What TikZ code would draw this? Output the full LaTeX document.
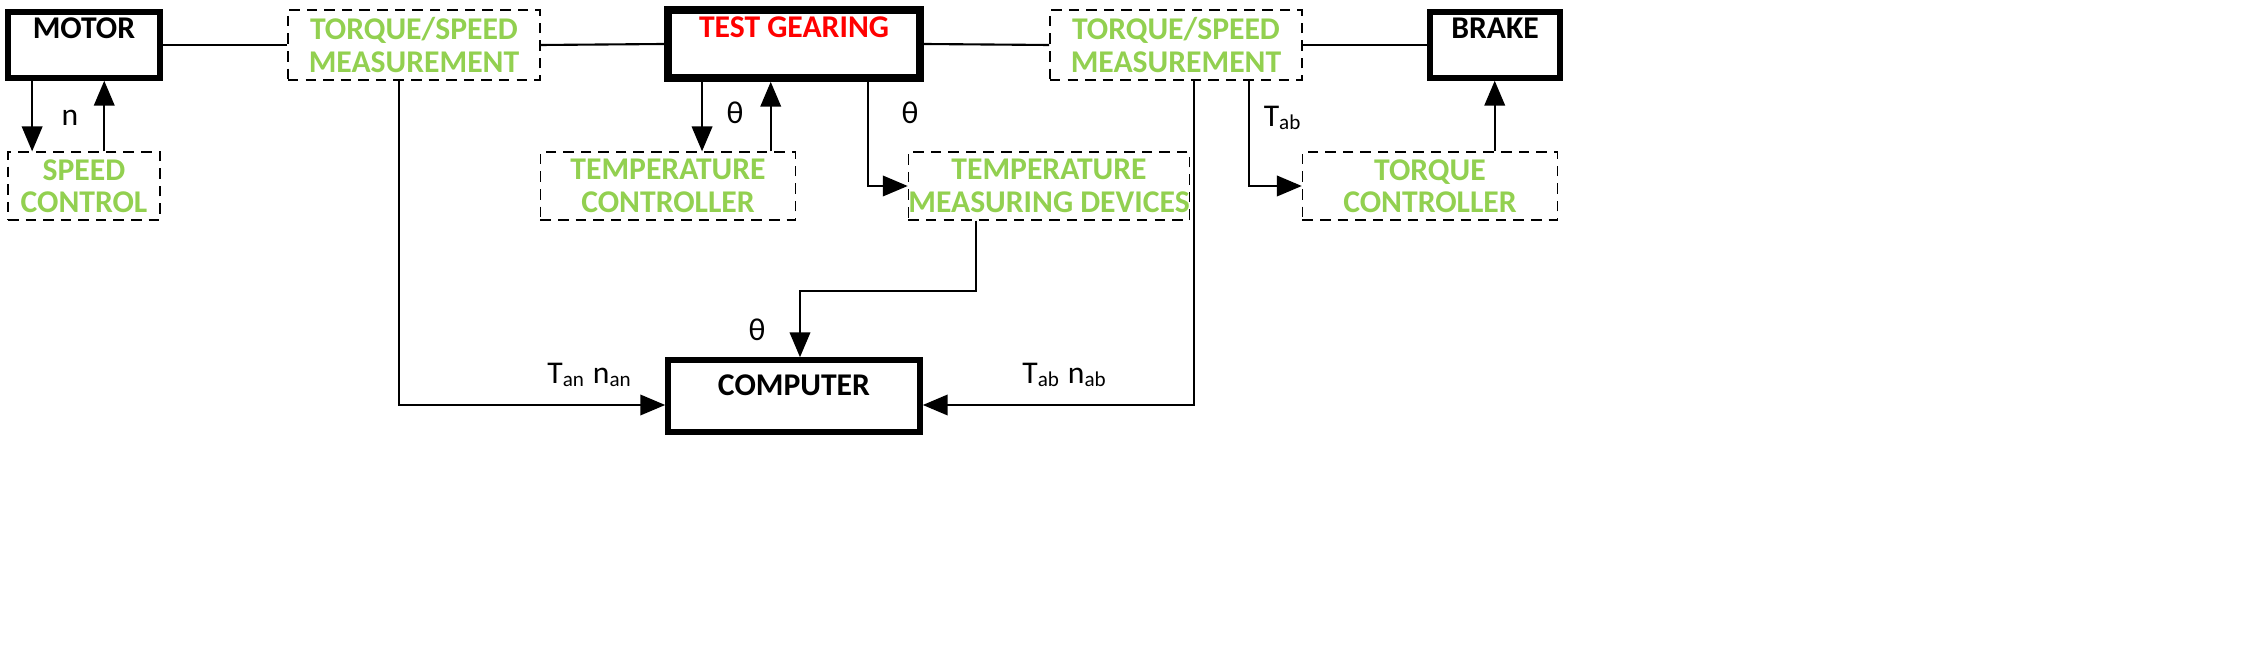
\documentclass[tikz,border=0pt]{standalone}
\usepackage{fontspec}
\setmainfont{Carlito}
\usetikzlibrary{arrows}
\definecolor{txt_green}{RGB}{146,208,80}
\definecolor{txt_red}{RGB}{255,0,0}

\begin{document}
\begin{tikzpicture}[semithick,>=triangle 45,x=0.01cm,y=-0.01cm]
    \tikzstyle{box}=[draw, rectangle, inner sep=0pt, align=center, font=\fontsize{9}{9.2}\selectfont\bfseries]
    \tikzstyle{main}=[style=box, line width=1.6pt, text height=0.2cm, text depth=0.33cm]
    \tikzstyle{meas}=[style=box, densely dashed, thin, text=txt_green]
    \tikzstyle{lbl}=[font=\fontsize{9}{10}\selectfont]
    \useasboundingbox (0,0) rectangle (2250,646);

    \node[main, minimum width=1.52cm, minimum height=0.66cm]            (motor) at (84,45)   {MOTOR};
    \node[meas, minimum width=2.52cm, minimum height=0.70cm]            (ts1)   at (414,45)  {TORQUE/SPEED\\MEASUREMENT};
    \node[main, minimum width=2.52cm, minimum height=0.68cm, text=txt_red, line width=2.2pt] (gear) at (794,44) {TEST GEARING};
    \node[meas, minimum width=2.52cm, minimum height=0.70cm]            (ts2)   at (1176,45) {TORQUE/SPEED\\MEASUREMENT};
    \node[main, minimum width=1.30cm, minimum height=0.66cm]            (brake) at (1495,45) {BRAKE};
    \node[meas, minimum width=1.52cm, minimum height=0.68cm]            (speed) at (84,186)  {SPEED\\CONTROL};
    \node[meas, minimum width=2.55cm, minimum height=0.68cm]            (tctl)  at (668,186) {TEMPERATURE\\CONTROLLER};
    \node[meas, minimum width=2.54cm, minimum height=0.68cm]            (tmd)   at (1049,186) {TEMPERATURE\\MEASURING DEVICES};
    \node[meas, minimum width=2.55cm, minimum height=0.68cm]            (qctl)  at (1430,186) {TORQUE\\CONTROLLER};
    \node[main, minimum width=2.52cm, minimum height=0.72cm, text depth=0.2cm] (comp) at (794,396) {COMPUTER};

    \draw (motor.east) -- (ts1.west);
    \draw (ts1.east) -- (gear.west);
    \draw (gear.east) -- (ts2.west);
    \draw (ts2.east) -- (brake.west);

    \draw[->] (motor.south west) ++(27,0) coordinate (m1) -- (m1 |- speed.north);
    \draw[->] (speed.north west) ++(97,0) coordinate (m2) -- (m2 |- motor.south);
    \draw[->] (gear.south west) ++(38,0) coordinate (g1) -- (g1 |- tctl.north);
    \draw[->] (tctl.north west) ++(231,0) coordinate (g2) -- (g2 |- gear.south);
    \draw[->] (gear.south west) ++(204,0) coordinate (g3) |- (tmd.west);
    \draw[->] (ts2.south west) ++(200,0) coordinate (s1) |- (qctl.west);
    \draw[->] (qctl.north west) ++(193,0) coordinate (b1) -- (b1 |- brake.south);
    \draw[->] (ts1.south west) ++(112,0) coordinate (c1) |- (comp.west |- 0,405);
    \draw[->] (ts2.south west) ++(145,0) coordinate (c2) |- (comp.east |- 0,405);
    \draw[->] (tmd.south west) ++(68,0) coordinate (d1) -- ++(0,70) -| (comp.north -| 800,0);

    \node[lbl] (ln)  at (70,118)  {n};
    \node[lbl] (lt1) at (735,113) {θ};
    \node[lbl] (lt2) at (910,113) {θ};
    \node[lbl] (ltb) at (1283,118) {T\textsubscript{ab}};
    \node[lbl] (lt3) at (757,330) {θ};
    \node[lbl] (lan) at (590,375) {T\textsubscript{an} n\textsubscript{an}};
    \node[lbl] (lab) at (1065,375) {T\textsubscript{ab} n\textsubscript{ab}};
\end{tikzpicture}
\end{document}
